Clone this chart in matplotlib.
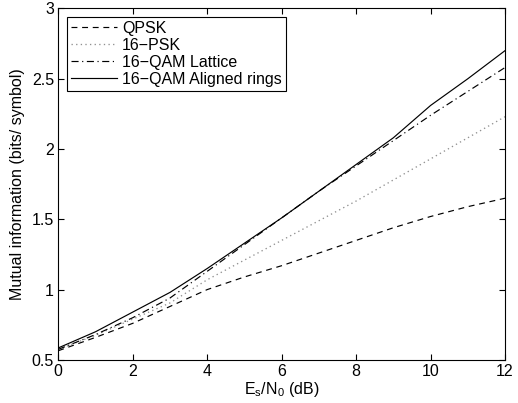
import matplotlib
matplotlib.use("Agg")
import matplotlib.pyplot as plt
from matplotlib.ticker import FuncFormatter

# Mutual information versus Es/N0 for four constellations
snr_db = [0, 1, 2, 3, 4, 5, 6, 7, 8, 9, 10, 11, 12]
mi_qpsk = [0.565, 0.66, 0.76, 0.88, 1.00, 1.09, 1.17, 1.26, 1.35, 1.44, 1.52, 1.59, 1.65]
mi_16psk = [0.575, 0.675, 0.79, 0.905, 1.07, 1.21, 1.35, 1.49, 1.63, 1.78, 1.93, 2.08, 2.23]
mi_16qam_lattice = [0.575, 0.68, 0.80, 0.94, 1.13, 1.32, 1.51, 1.70, 1.88, 2.06, 2.24, 2.41, 2.58]
mi_16qam_rings = [0.585, 0.70, 0.84, 0.98, 1.15, 1.33, 1.51, 1.70, 1.89, 2.08, 2.31, 2.50, 2.70]

labels = ["QPSK", "16\u2212PSK", "16\u2212QAM Lattice", "16\u2212QAM Aligned rings"]
x_ticks = [0, 2, 4, 6, 8, 10, 12]
y_ticks = [0.5, 1, 1.5, 2, 2.5, 3]

plt.rcParams["font.family"] = ["Liberation Sans", "DejaVu Sans"]
plt.rcParams["mathtext.fontset"] = "custom"
plt.rcParams["mathtext.rm"] = "Liberation Sans"
plt.rcParams["mathtext.it"] = "Liberation Sans"
plt.rcParams["font.size"] = 11.5

fig = plt.figure(figsize=(5.18, 4.03), dpi=100)
ax = fig.add_axes([0.1125, 0.107, 0.8625, 0.872])

ax.plot(snr_db, mi_qpsk, color="black", linestyle=(0, (5, 4)), linewidth=0.85, label=labels[0])
ax.plot(snr_db, mi_16psk, color="#909090", linestyle=(0, (1, 2.5)), linewidth=0.95, label=labels[1])
ax.plot(snr_db, mi_16qam_lattice, color="black", linestyle=(0, (6, 3, 1, 3)), linewidth=0.85, label=labels[2])
ax.plot(snr_db, mi_16qam_rings, color="black", linestyle="-", linewidth=0.85, label=labels[3])

ax.set_xlim(0, 12)
ax.set_ylim(0.5, 3)
ax.set_xticks(x_ticks)
ax.set_yticks(y_ticks)
ax.yaxis.set_major_formatter(FuncFormatter(lambda v, p: f"{v:g}"))
ax.tick_params(direction="in", top=True, right=True, length=4, width=0.8, pad=3)
for s in ax.spines.values():
    s.set_linewidth(0.8)

ax.set_xlabel(r"E$_s$/N$_0$ (dB)", labelpad=0.5)
ax.set_ylabel("Mutual information (bits/ symbol)", labelpad=5)

leg = ax.legend(loc="upper left", bbox_to_anchor=(0.012, 0.985), fancybox=False,
                edgecolor="black", framealpha=1, borderpad=0.25, labelspacing=0.12,
                handlelength=2.9, handletextpad=0.3, borderaxespad=0.2)
leg.get_frame().set_linewidth(0.8)

fig.savefig("out.png", dpi=100)
